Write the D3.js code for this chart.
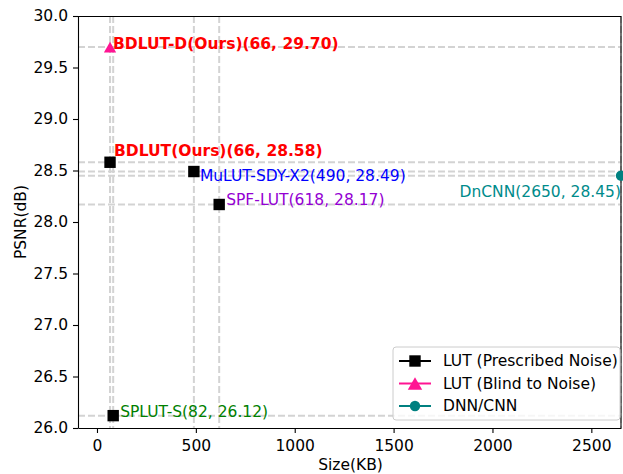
<!DOCTYPE html>
<html>
<head>
<meta charset="utf-8">
<script src="https://cdn.jsdelivr.net/npm/d3@7"></script>
<style>
  body { margin: 0; background: #fff; }
  svg text { font-family: "DejaVu Sans", sans-serif; }
  .axis text { font-size: 15.5px; fill: #000; }
  .axis path, .axis line { stroke: #000; stroke-width: 1.1; }
</style>
</head>
<body>
<svg class="chart" width="623" height="474"></svg>
<script>
var names = ["BDLUT-D(Ours)", "BDLUT(Ours)", "MuLUT-SDY-X2", "SPF-LUT", "DnCNN", "SPLUT-S"];
var sizes = [66, 66, 490, 618, 2650, 82];
var psnrs = [29.70, 28.58, 28.49, 28.17, 28.45, 26.12];
var groups = ["LUT (Blind to Noise)", "LUT (Prescribed Noise)", "LUT (Prescribed Noise)", "LUT (Prescribed Noise)", "DNN/CNN", "LUT (Prescribed Noise)"];
var legendNames = ["LUT (Prescribed Noise)", "LUT (Blind to Noise)", "DNN/CNN"];
var xTicks = [0, 500, 1000, 1500, 2000, 2500];
var yTicks = [26.0, 26.5, 27.0, 27.5, 28.0, 28.5, 29.0, 29.5, 30.0];

// label look: colour, weight, offset from the point, anchor
var labelStyle = {
  "BDLUT-D(Ours)": { color: "#ff0000", bold: true, dx: 3, dy: 2, anchor: "start" },
  "BDLUT(Ours)":   { color: "#ff0000", bold: true, dx: 4, dy: -6, anchor: "start" },
  "MuLUT-SDY-X2":  { color: "#0000ff", bold: false, dx: 6, dy: 9, anchor: "start" },
  "SPF-LUT":       { color: "#9400d3", bold: false, dx: 7, dy: 1, anchor: "start" },
  "DnCNN":         { color: "#008b8b", bold: false, dx: 0, dy: 21, anchor: "end" },
  "SPLUT-S":       { color: "#008000", bold: false, dx: 7, dy: 1, anchor: "start" }
};

var markerColor = { "LUT (Prescribed Noise)": "#000000", "LUT (Blind to Noise)": "#ff1493", "DNN/CNN": "#008080" };
var markerShape = { "LUT (Prescribed Noise)": d3.symbolSquare, "LUT (Blind to Noise)": d3.symbolTriangle, "DNN/CNN": d3.symbolCircle };
var markerArea = { "LUT (Prescribed Noise)": 130, "LUT (Blind to Noise)": 65, "DNN/CNN": 85 };
// d3 centres the triangle on its centroid, matplotlib on its box
var markerShift = { "LUT (Prescribed Noise)": 0, "LUT (Blind to Noise)": 2, "DNN/CNN": 0 };

var mLeft = 78, mRight = 621, mTop = 16, mBottom = 428;

var x = d3.scaleLinear().domain([-96, 2650]).range([mLeft, mRight]);
var y = d3.scaleLinear().domain([26, 30]).range([mBottom, mTop]);

var svg = d3.select(".chart");

var data = names.map(function(n, i) { return { name: n, size: sizes[i], psnr: psnrs[i], group: groups[i] }; });

// dashed guide lines
svg.append("g").selectAll("line.vg")
    .data(data)
  .enter().append("line")
    .attr("x1", function(d) { return x(d.size); })
    .attr("x2", function(d) { return x(d.size); })
    .attr("y1", mTop).attr("y2", mBottom)
    .attr("stroke", "#d3d3d3").attr("stroke-width", 2).attr("stroke-dasharray", "7,3");

svg.append("g").selectAll("line.hg")
    .data(data)
  .enter().append("line")
    .attr("x1", mLeft).attr("x2", mRight)
    .attr("y1", function(d) { return y(d.psnr); })
    .attr("y2", function(d) { return y(d.psnr); })
    .attr("stroke", "#d3d3d3").attr("stroke-width", 2).attr("stroke-dasharray", "7,3");

// axes
svg.append("g")
    .attr("class", "axis")
    .attr("transform", "translate(0," + mBottom + ")")
    .call(d3.axisBottom(x).tickValues(xTicks).tickFormat(d3.format("d")).tickSize(5).tickPadding(4).tickSizeOuter(0))
    .selectAll("text").attr("dy", "0.9em");

svg.append("g")
    .attr("class", "axis")
    .attr("transform", "translate(" + mLeft + ",0)")
    .call(d3.axisLeft(y).tickValues(yTicks).tickFormat(d3.format(".1f")).tickSize(5).tickPadding(5).tickSizeOuter(0));

svg.append("line").attr("x1", mLeft).attr("x2", mRight).attr("y1", mTop + 0.5).attr("y2", mTop + 0.5).attr("stroke", "#000").attr("stroke-width", 1.1);
svg.append("line").attr("x1", mRight).attr("x2", mRight).attr("y1", mTop).attr("y2", mBottom).attr("stroke", "#000").attr("stroke-width", 1.1);

// markers
svg.append("g").selectAll("path.pt")
    .data(data)
  .enter().append("path")
    .attr("d", function(d) { return d3.symbol().type(markerShape[d.group]).size(markerArea[d.group])(); })
    .attr("transform", function(d) { return "translate(" + x(d.size) + "," + (y(d.psnr) + markerShift[d.group]) + ")"; })
    .attr("fill", function(d) { return markerColor[d.group]; });

// point labels
svg.append("g").selectAll("text.lbl")
    .data(data)
  .enter().append("text")
    .attr("x", function(d) { return x(d.size) + labelStyle[d.name].dx; })
    .attr("y", function(d) { return y(d.psnr) + labelStyle[d.name].dy; })
    .attr("text-anchor", function(d) { return labelStyle[d.name].anchor; })
    .attr("font-size", 15.5)
    .attr("font-weight", function(d) { return labelStyle[d.name].bold ? "bold" : "normal"; })
    .attr("fill", function(d) { return labelStyle[d.name].color; })
    .text(function(d) { return d.name + "(" + d.size + ", " + d.psnr.toFixed(2) + ")"; });

// axis titles
svg.append("text")
    .attr("x", (mLeft + mRight) / 2 + 1).attr("y", 470)
    .attr("text-anchor", "middle").attr("font-size", 15.5)
    .text("Size(KB)");

svg.append("text")
    .attr("transform", "translate(26," + (mTop + mBottom) / 2 + ") rotate(-90)")
    .attr("text-anchor", "middle").attr("font-size", 15.5)
    .text("PSNR(dB)");

// legend
var legend = svg.append("g").attr("transform", "translate(393,347)");
legend.append("rect")
    .attr("width", 227).attr("height", 73).attr("rx", 3)
    .attr("fill", "rgba(255,255,255,0.8)").attr("stroke", "#ccc");

var item = legend.selectAll("g.item")
    .data(legendNames)
  .enter().append("g")
    .attr("transform", function(d, i) { return "translate(0," + (14 + i * 22.5) + ")"; });

item.append("line")
    .attr("x1", 6).attr("x2", 38)
    .attr("stroke", function(d) { return markerColor[d]; }).attr("stroke-width", 2);

item.append("path")
    .attr("d", function(d) { return d3.symbol().type(markerShape[d]).size(d === "LUT (Blind to Noise)" ? 90 : markerArea[d])(); })
    .attr("transform", function(d) { return "translate(22," + markerShift[d] + ")"; })
    .attr("fill", function(d) { return markerColor[d]; });

item.append("text")
    .attr("x", 50).attr("dy", "0.35em")
    .attr("font-size", 15.5)
    .text(function(d) { return d; });
</script>
</body>
</html>
